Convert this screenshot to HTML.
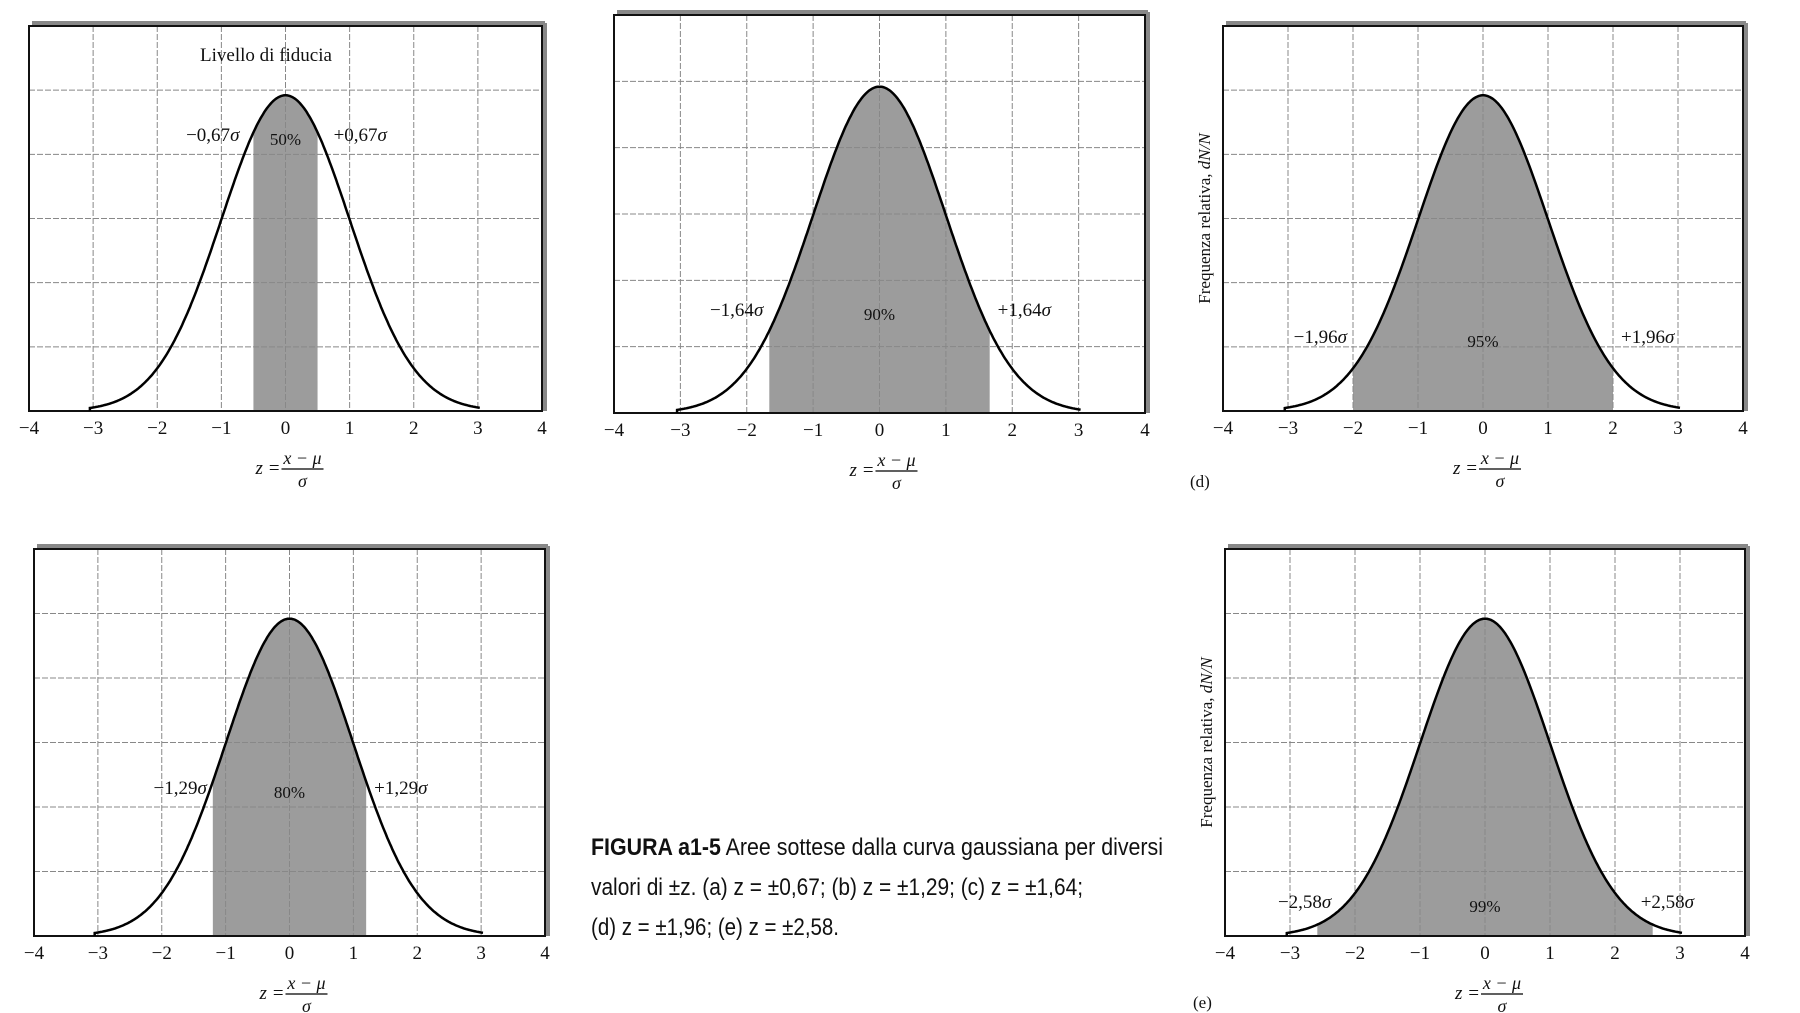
<!DOCTYPE html>
<html><head><meta charset="utf-8"><style>
html,body{margin:0;padding:0;background:#fff;width:1800px;height:1013px;overflow:hidden}
svg{display:block}
text{font-family:"Liberation Serif",serif;fill:#111}
</style></head><body>
<svg id="s" width="1800" height="1013" viewBox="0 0 1800 1013" xmlns="http://www.w3.org/2000/svg">
<g id="g"></g>
<text x="591" y="855" style="font-family:'Liberation Sans',sans-serif" font-size="24" textLength="572" lengthAdjust="spacingAndGlyphs"><tspan font-weight="bold">FIGURA a1-5</tspan>  Aree sottese dalla curva gaussiana per diversi</text>
<text x="591" y="895" style="font-family:'Liberation Sans',sans-serif" font-size="24" textLength="492" lengthAdjust="spacingAndGlyphs">valori di ±z. (a) z =  ±0,67; (b) z = ±1,29; (c) z = ±1,64;</text>
<text x="591" y="935" style="font-family:'Liberation Sans',sans-serif" font-size="24" textLength="248" lengthAdjust="spacingAndGlyphs">(d) z = ±1,96; (e) z = ±2,58.</text>
</svg>
<script>
var g=document.getElementById('g');var h='';
function P(o){
 var x0=o.x0,x1=o.x1,y0=o.y0,y1=o.y1,W=x1-x0,H=y1-y0;
 var sx=function(z){return x0+(z+4)*W/8;};
 var pk=y0+H*0.18;
 var sy=function(z){return y1-(y1-pk)*Math.exp(-z*z/2);};
 var d='M'+sx(-o.z)+','+y1;
 for(var z=-o.z;z<=o.z+1e-9;z+=0.02)d+=' L'+sx(z).toFixed(1)+','+sy(z).toFixed(1);
 d+=' L'+sx(o.z)+','+y1+'Z';
 h+='<path d="'+d+'" fill="#9c9c9c"/>';
 for(var i=1;i<8;i++){var x=x0+i*W/8;h+='<line x1="'+x+'" y1="'+y0+'" x2="'+x+'" y2="'+y1+'" stroke="#888" stroke-width="1" stroke-dasharray="6,2"/>';}
 for(var j=1;j<6;j++){var y=y0+j*H/6;h+='<line x1="'+x0+'" y1="'+y+'" x2="'+x1+'" y2="'+y+'" stroke="#888" stroke-width="1" stroke-dasharray="6,2"/>';}
 h+='<rect x="'+x0+'" y="'+y0+'" width="'+W+'" height="'+H+'" fill="none" stroke="#111" stroke-width="2"/>';
 h+='<line x1="'+(x0+3)+'" y1="'+(y0-3)+'" x2="'+(x1+3)+'" y2="'+(y0-3)+'" stroke="#888" stroke-width="4"/>';
 h+='<line x1="'+(x1+3)+'" y1="'+(y0-3)+'" x2="'+(x1+3)+'" y2="'+(y1)+'" stroke="#888" stroke-width="4"/>';
 var c='M'+sx(-3.05)+','+y1;
 for(var z=-3.05;z<=3.05;z+=0.02)c+=' L'+sx(z).toFixed(1)+','+sy(z).toFixed(1);
 h+='<path d="'+c+'" fill="none" stroke="#000" stroke-width="2.5"/>';
 for(var k=-4;k<=4;k++){h+='<text x="'+sx(k)+'" y="'+(y1+23)+'" font-size="19" text-anchor="middle">'+(k<0?'−'+(-k):k)+'</text>';}
 var cx=sx(0),fy=y1+55;
 h+='<text x="'+(cx-30)+'" y="'+(fy+8)+'" font-size="19" font-style="italic">z =</text>';
 h+='<text x="'+(cx+17)+'" y="'+(fy-2)+'" font-size="18" font-style="italic" text-anchor="middle">x − μ</text>';
 h+='<line x1="'+(cx-4)+'" y1="'+(fy+3)+'" x2="'+(cx+38)+'" y2="'+(fy+3)+'" stroke="#000" stroke-width="1.3"/>';
 h+='<text x="'+(cx+17)+'" y="'+(fy+21)+'" font-size="18" font-style="italic" text-anchor="middle">σ</text>';
 var ly=o.ly, lo=o.lo||0;
 h+='<text x="'+(sx(-o.z)-6+lo)+'" y="'+ly+'" font-size="19" text-anchor="end">−'+o.t+'<tspan font-style="italic">σ</tspan></text>';
 h+='<text x="'+(sx(o.z)+8-lo)+'" y="'+ly+'" font-size="19">+'+o.t+'<tspan font-style="italic">σ</tspan></text>';
 h+='<text x="'+cx+'" y="'+(ly+4)+'" font-size="17" text-anchor="middle">'+o.p+'</text>';
 if(o.lab){h+='<text x="'+o.lab[0]+'" y="'+o.lab[1]+'" font-size="17">'+o.lab[2]+'</text>';}
 if(o.yl){h+='<text transform="translate('+(x0-13)+','+((y0+y1)/2)+') rotate(-90)" font-size="17" text-anchor="middle">Frequenza relativa, <tspan font-style="italic">dN/N</tspan></text>';}
}
P({x0:29,x1:542,y0:26,y1:411,z:0.5,t:'0,67',p:'50%',ly:141,lo:-8});
h+='<text x="266" y="61" font-size="19" text-anchor="middle">Livello di fiducia</text>';
P({x0:614,x1:1145,y0:15,y1:413,z:1.66,t:'1,64',p:'90%',ly:316});
P({x0:1223,x1:1743,y0:26,y1:411,z:2.0,t:'1,96',p:'95%',ly:343,yl:1,lab:[1190,487,'(d)']});
P({x0:34,x1:545,y0:549,y1:936,z:1.2,t:'1,29',p:'80%',ly:794});
P({x0:1225,x1:1745,y0:549,y1:936,z:2.58,t:'2,58',p:'99%',ly:908,yl:1,lab:[1193,1008,'(e)'],lo:20});
g.innerHTML=h;
</script>
</body></html>
